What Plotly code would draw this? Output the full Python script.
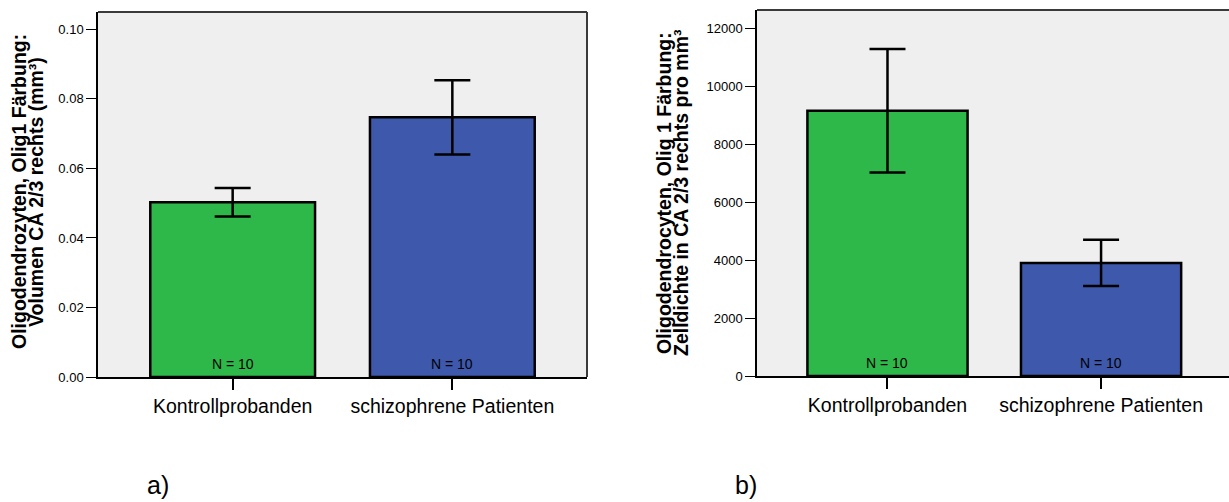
import plotly.graph_objects as go

categories = ["Kontrollprobanden", "schizophrene Patienten"]
bar_colors = ["#2FB84A", "#3E58AC"]
n_labels = ["N = 10", "N = 10"]

vol_mean = [0.0503, 0.0747]
vol_err = [0.0041, 0.0107]
vol_ticks = [0.00, 0.02, 0.04, 0.06, 0.08, 0.10]

dens_mean = [9150, 3900]
dens_err = [2130, 795]
dens_ticks = [0, 2000, 4000, 6000, 8000, 10000, 12000]

title_a = ["Oligodendrozyten, Olig1 Färbung:", "Volumen CA 2/3 rechts (mm³)"]
title_b = ["Oligodendrocyten, Olig 1 Färbung:", "Zelldichte in CA 2/3 rechts pro mm³"]
panel_labels = ["a)", "b)"]

FONT = "Liberation Sans, Arial, sans-serif"
W, H = 1229, 502

fig = go.Figure()
fig.add_trace(go.Bar(
    x=categories, y=vol_mean, width=0.75,
    marker=dict(color=bar_colors, line=dict(color="black", width=2.5)),
    error_y=dict(type="data", array=vol_err, color="black", thickness=2.5, width=18),
    xaxis="x", yaxis="y", showlegend=False, hoverinfo="skip"))
fig.add_trace(go.Bar(
    x=categories, y=dens_mean, width=0.75,
    marker=dict(color=bar_colors, line=dict(color="black", width=2.5)),
    error_y=dict(type="data", array=dens_err, color="black", thickness=2.5, width=18),
    xaxis="x2", yaxis="y2", showlegend=False, hoverinfo="skip"))

# panel geometry in pixels
La, Ra, Ta, Ba = 98, 587, 12, 377
Lb, Rb, Tb, Bb = 757, 1229, 10, 376

def px_x(p):
    return p / W

def px_y(p):
    return 1 - p / H

xcommon = dict(type="category", showgrid=False, zeroline=False, showline=True,
               automargin=False,
               linecolor="black", linewidth=1.5, ticks="outside", ticklen=11,
               tickcolor="black", tickwidth=1.5,
               tickfont=dict(family=FONT, size=19.5, color="black"))
ycommon = dict(showgrid=False, zeroline=False, showline=True, linecolor="black",
               automargin=False,
               linewidth=1.5, ticks="outside", ticklen=10, tickcolor="black",
               tickwidth=1, tickfont=dict(family=FONT, size=13, color="black"))

fig.update_layout(
    width=W, height=H, margin=dict(l=0, r=0, t=0, b=0, pad=0),
    paper_bgcolor="white", plot_bgcolor="#EFEFEF",
    bargap=0.25,
    xaxis=dict(domain=[px_x(La), px_x(Ra)], range=[-0.613, 1.613], anchor="y", **xcommon),
    yaxis=dict(domain=[px_y(Ba), px_y(Ta)], range=[0, 0.105], anchor="x",
               tickvals=vol_ticks, ticktext=[f"{v:.2f}" for v in vol_ticks], **ycommon),
    xaxis2=dict(domain=[px_x(Lb), px_x(Rb)], range=[-0.611, 1.599], anchor="y2", **xcommon),
    yaxis2=dict(domain=[px_y(Bb), px_y(Tb)], range=[0, 12621], anchor="x2",
                tickvals=dens_ticks, ticktext=[str(v) for v in dens_ticks], **ycommon),
)

# box borders (top and right) drawn as shapes
border = dict(color="#3A3A3A", width=2)
fig.add_shape(type="line", xref="paper", yref="paper", x0=px_x(La), x1=px_x(Ra),
              y0=px_y(Ta), y1=px_y(Ta), line=border)
fig.add_shape(type="line", xref="paper", yref="paper", x0=px_x(Ra), x1=px_x(Ra),
              y0=px_y(Ta), y1=px_y(Ba), line=border)
fig.add_shape(type="line", xref="paper", yref="paper", x0=px_x(Lb), x1=1,
              y0=px_y(Tb), y1=px_y(Tb), line=border)

# N labels
for xa, ya in [("x", "y"), ("x2", "y2")]:
    for c, t in zip(categories, n_labels):
        fig.add_annotation(x=c, y=0, xref=xa, yref=ya, text=t, showarrow=False,
                           yanchor="bottom", yshift=3,
                           font=dict(family=FONT, size=14, color="black"))

# y-axis titles as rotated lines
for lines, xs, yc in [(title_a, [19, 36], 192), (title_b, [664, 681], 193)]:
    for line, xp in zip(lines, xs):
        fig.add_annotation(x=px_x(xp), y=px_y(yc), xref="paper", yref="paper",
                           text=f"<b>{line}</b>", textangle=-90, showarrow=False,
                           xanchor="center", yanchor="middle",
                           font=dict(family=FONT, size=19.5, color="black"))

# panel labels
for lab, xp in zip(panel_labels, [158, 746]):
    fig.add_annotation(x=px_x(xp), y=px_y(485), xref="paper", yref="paper",
                       text=lab, showarrow=False, xanchor="center", yanchor="middle",
                       font=dict(family=FONT, size=25, color="black"))

fig.write_html("out.html", config={"displayModeBar": False},
               post_script="document.body.style.margin='0';document.body.style.overflow='hidden';")
